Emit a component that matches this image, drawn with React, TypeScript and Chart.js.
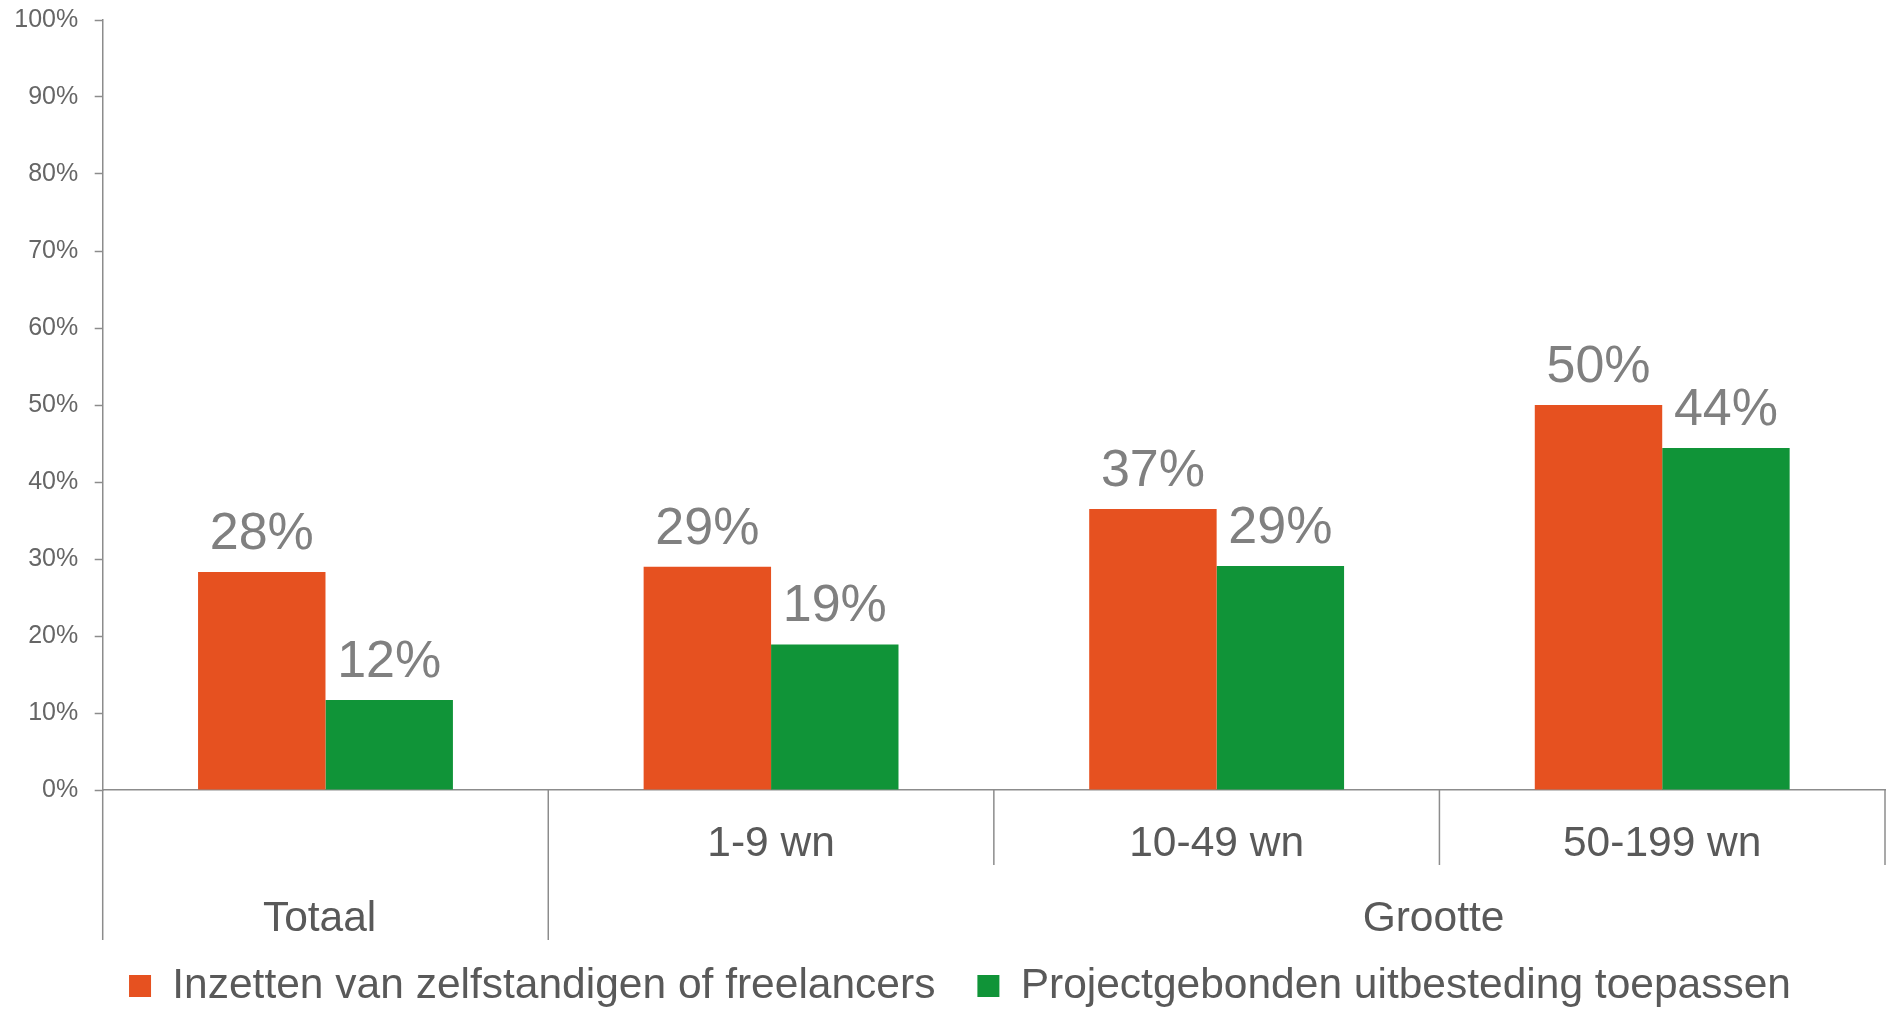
import React, { useEffect, useRef } from 'react';
import { Chart, registerables } from 'chart.js';

Chart.register(...registerables);

// ---- data ----
const categories = ['Totaal', '1-9 wn', '10-49 wn', '50-199 wn'];
const subCategoryLabels = ['', '1-9 wn', '10-49 wn', '50-199 wn'];
const groupLabels = ['Totaal', 'Grootte'];
const seriesNames = [
  'Inzetten van zelfstandigen of freelancers',
  'Projectgebonden uitbesteding toepassen',
];
const freelancers = [28.3, 29.0, 36.5, 50.0];
const outsourcing = [11.7, 18.9, 29.1, 44.4];
const yMin = 0;
const yMax = 100;
const yStep = 10;

// ---- style ----
const FONT = '"Liberation Sans", Arial, Helvetica, sans-serif';
const ORANGE = '#E65120';
const GREEN = '#109438';
const AXIS = '#8C8C8C';
const TEXT = '#595959';
const LABEL = '#808080';
const TEXT_SIZE = 42.5;

const overlayPlugin = {
  id: 'overlay',
  afterLayout(chart: any) {
    // centre the legend like the reference (slightly right of canvas centre)
    if (chart.legend) chart.legend.left = 35;
  },
  afterDraw(chart: any) {
    const { ctx } = chart;
    const x = chart.scales.x;
    const y = chart.scales.y;
    const zeroY = y.getPixelForValue(0);
    ctx.save();

    // category separators (hierarchical axis)
    ctx.strokeStyle = AXIS;
    ctx.lineWidth = 1.5;
    for (let i = 0; i <= categories.length; i++) {
      const px = x.getPixelForValue(i - 0.5);
      const isGroupEdge = i <= 1;
      ctx.beginPath();
      ctx.moveTo(px, zeroY);
      ctx.lineTo(px, zeroY + (isGroupEdge ? 150 : 75));
      ctx.stroke();
    }

    // first-level labels
    ctx.font = `${TEXT_SIZE}px ${FONT}`;
    ctx.fillStyle = TEXT;
    ctx.textAlign = 'center';
    ctx.textBaseline = 'alphabetic';
    subCategoryLabels.forEach((lab, i) => {
      if (lab) ctx.fillText(lab, x.getPixelForValue(i), zeroY + 66);
    });

    // second-level labels
    const half = ctx.measureText(' ').width / 2;
    const groupAnchors = [x.getPixelForValue(0), x.getPixelForValue(2.5)];
    groupLabels.forEach((lab, i) => {
      ctx.fillText(lab, groupAnchors[i] - half, zeroY + 141);
    });

    // data labels
    ctx.font = `52px ${FONT}`;
    ctx.fillStyle = LABEL;
    chart.data.datasets.forEach((ds: any, d: number) => {
      const meta = chart.getDatasetMeta(d);
      meta.data.forEach((el: any, i: number) => {
        const v = ds.data[i];
        ctx.fillText(`${Math.round(v)}%`, el.x, el.y - 23);
      });
    });

    ctx.restore();
  },
};

export default function App() {
  const ref = useRef<HTMLCanvasElement | null>(null);

  useEffect(() => {
    document.body.style.margin = '0';
    const canvas = ref.current;
    if (!canvas) return;
    const chart = new Chart(canvas, {
      type: 'bar',
      data: {
        labels: categories,
        datasets: [
          {
            label: seriesNames[0],
            data: freelancers,
            backgroundColor: ORANGE,
            borderWidth: 0,
            categoryPercentage: 0.572,
            barPercentage: 1,
          },
          {
            label: seriesNames[1],
            data: outsourcing,
            backgroundColor: GREEN,
            borderWidth: 0,
            categoryPercentage: 0.572,
            barPercentage: 1,
          },
        ],
      },
      options: {
        responsive: false,
        animation: false,
        devicePixelRatio: 1,
        layout: { padding: { top: 20, left: 0, right: 5, bottom: -8.25 } },
        plugins: {
          tooltip: { enabled: false },
          legend: {
            position: 'bottom',
            labels: {
              boxWidth: 22,
              boxHeight: 22,
              padding: 42,
              color: TEXT,
              font: { family: FONT, size: TEXT_SIZE },
            },
          },
        },
        scales: {
          x: {
            type: 'category',
            offset: true,
            grid: { display: false, drawTicks: false },
            border: { display: true, color: AXIS, width: 1.5 },
            ticks: { display: false },
            afterFit: (scale: any) => {
              scale.height = 132.75;
            },
          },
          y: {
            min: yMin,
            max: yMax,
            grid: {
              display: true,
              drawOnChartArea: false,
              drawTicks: true,
              tickLength: 8,
              tickColor: AXIS,
              tickWidth: 1.5,
            },
            border: { display: true, color: AXIS, width: 1.5 },
            ticks: {
              stepSize: yStep,
              padding: 16.5,
              color: '#666666',
              font: { family: FONT, size: 25 },
              callback: (v: any) => `${v}%`,
            },
            afterFit: (scale: any) => {
              scale.width = 102.7;
              scale.paddingTop = 0;
              scale.paddingBottom = 0;
            },
          },
        },
      },
      plugins: [overlayPlugin],
    });
    return () => chart.destroy();
  }, []);

  return (
    <div style={{ width: 1890, height: 1009 }}>
      <canvas ref={ref} width={1890} height={1009} style={{ display: 'block' }} />
    </div>
  );
}
